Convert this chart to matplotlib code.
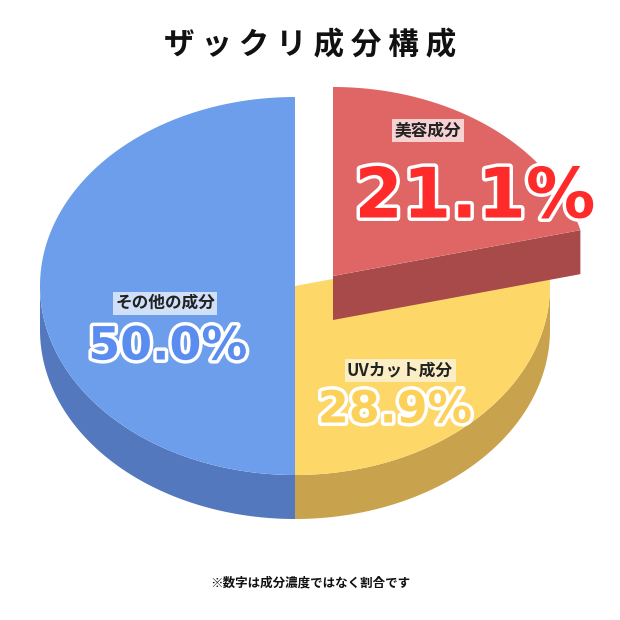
import numpy as np
import matplotlib
matplotlib.use("Agg")
import matplotlib.pyplot as plt
from matplotlib.patches import Polygon
import matplotlib.patheffects as pe

plt.rcParams['font.family'] = ['Noto Sans CJK JP', 'DejaVu Sans']

labels = ["美容成分", "UVカット成分", "その他の成分"]
values = [21.1, 28.9, 50.0]
tops = ["#e06666", "#fdd768", "#6d9eeb"]
sides = ["#a84a4a", "#c8a24c", "#5478bd"]
text_colors = ["#ff2b2b", "#fcd15a", "#5b8cf0"]
label_boxes = ["#f6d2d2", "#fbeec4", "#cfe0f8"]

cx, cy, rx, ry, depth = 295, 286, 255, 189, 44
explode = [(38, -10), (0, 0), (0, 0)]

fig = plt.figure(figsize=(6.2, 6.2), dpi=100)
ax = fig.add_axes([0, 0, 1, 1])
ax.set_xlim(0, 620)
ax.set_ylim(620, 0)
ax.axis("off")


def pt(t, ox, oy, dy=0):
    return (cx + ox + rx * np.cos(t), cy + oy - ry * np.sin(t) + dy)


start = np.pi / 2
for i, v in enumerate(values):
    t0 = start
    t1 = start - v / 100 * 2 * np.pi
    start = t1
    ox, oy = explode[i]
    z = 3 if i == 0 else 1
    ts = np.linspace(t0, t1, 200)
    # side faces: rim part facing the viewer
    front = ts[np.sin(ts) <= 0.001]
    if len(front) > 1:
        upper = [pt(t, ox, oy) for t in front]
        lower = [pt(t, ox, oy, depth) for t in front[::-1]]
        ax.add_patch(Polygon(upper + lower, closed=True, fc=sides[i], ec="none", zorder=z))
    if i == 0:
        # visible radial cut face under the exploded slice
        a = (cx + ox, cy + oy)
        r = pt(t1, ox, oy)
        ax.add_patch(Polygon([a, r, (r[0], r[1] + depth), (a[0], a[1] + depth)],
                             closed=True, fc=sides[i], ec="none", zorder=z))
    top = [(cx + ox, cy + oy)] + [pt(t, ox, oy) for t in ts]
    ax.add_patch(Polygon(top, closed=True, fc=tops[i], ec="none", zorder=z + 0.5))

ax.text(310, 45, "ザ ッ ク リ 成 分 構 成", ha="center", va="center",
        fontsize=22, fontweight="bold", color="#111111")

label_pos = [(428, 130), (400, 370), (165, 303)]
value_pos = [(475, 198), (395, 410), (168, 347)]
value_sizes = [50, 32, 33]
for i in range(3):
    ax.text(*label_pos[i], labels[i], ha="center", va="center", fontsize=12,
            fontweight="bold", color="#222222", zorder=5,
            bbox=dict(boxstyle="square,pad=0.15", fc=label_boxes[i], ec="none"))
    ax.text(*value_pos[i], f"{values[i]:.1f}%", ha="center", va="center",
            fontsize=value_sizes[i], fontweight="bold", color=text_colors[i],
            family="DejaVu Sans", zorder=5,
            path_effects=[pe.withStroke(linewidth=5, foreground="white")])

ax.text(310, 583, "※数字は成分濃度ではなく割合です", ha="center", va="center",
        fontsize=9, fontweight="bold", color="#111111")

fig.savefig("out.png", dpi=100, facecolor="white")
